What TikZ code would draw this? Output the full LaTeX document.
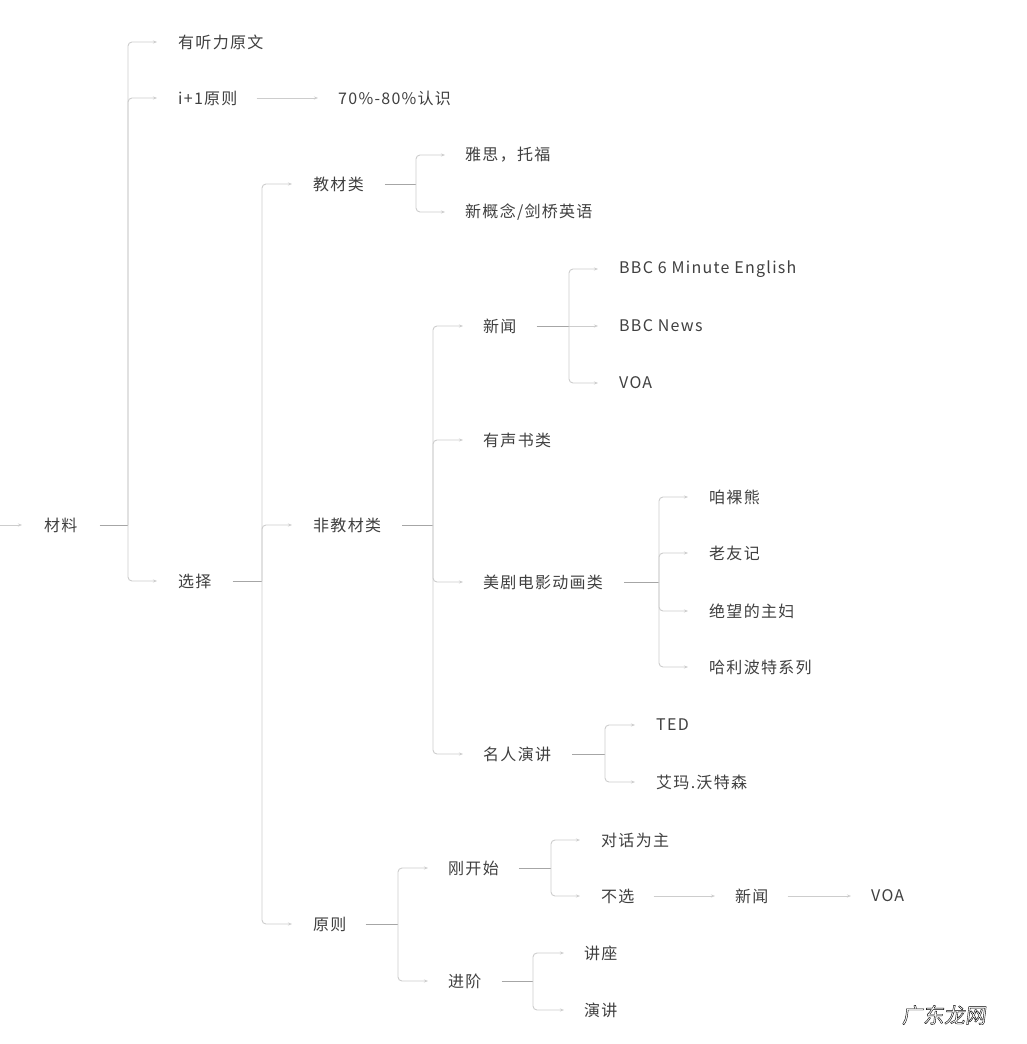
\documentclass[tikz,border=0pt]{standalone}
\usepackage{fontspec}
\setmainfont{Noto Sans CJK SC}[LetterSpace=8]
\newfontfamily\wmfont{Noto Sans CJK SC}[FakeBold=2,FakeSlant=0.12]
\usetikzlibrary{arrows.meta}
\definecolor{txt}{HTML}{404040}
\definecolor{stubgray}{HTML}{A6A6A6}
\definecolor{busgray}{HTML}{CDCDCD}
% outlined text: white face, black rim
\newcommand\rimtext[1]{{\color{white}\special{pdf:literal direct 2 Tr 2.4 w 0 G 1 j}#1\special{pdf:literal direct 0 Tr}}}

\begin{document}
\begin{tikzpicture}[x=1pt,y=-1pt,>={Stealth[length=4pt,width=3pt]},
    topic/.style={anchor=west,inner sep=0pt,text=txt,font=\fontsize{16}{16}\selectfont},
    wmark/.style={font=\wmfont\fontsize{21}{21}\selectfont},
    stub/.style={draw=stubgray,line width=0.9pt},
    branch/.style={draw=busgray,line width=0.9pt,->,rounded corners=4pt}]

    \useasboundingbox[fill=white] (0,0) rectangle (1026,1044);

    % root and first level
    \node[topic] (mat) at (44,525) {材料};
    \node[topic] (yt) at (178,42) {有听力原文};
    \node[topic] (i1) at (178,98) {i+1原则};
    \node[topic] (pct) at (338,98) {70\%-80\%认识};
    \node[topic] (xz) at (178,581) {选择};

    % choice
    \node[topic] (jc) at (313,184) {教材类};
    \node[topic] (ys) at (465,155) {雅思，托福};
    \node[topic] (xgn) at (465,212) {新概念/剑桥英语};
    \node[topic] (fjc) at (313,525) {非教材类};
    \node[topic] (xw) at (483,326) {新闻};
    \node[topic] (bbc6) at (619,269) {BBC 6 Minute English};
    \node[topic] (bbcn) at (619,326) {BBC News};
    \node[topic] (voa) at (619,383) {VOA};
    \node[topic] (ysh) at (483,440) {有声书类};
    \node[topic] (mj) at (483,582) {美剧电影动画类};
    \node[topic] (zl) at (709,497) {咱裸熊};
    \node[topic] (lyj) at (709,553) {老友记};
    \node[topic] (jw) at (709,611) {绝望的主妇};
    \node[topic] (hl) at (709,667) {哈利波特系列};
    \node[topic] (mr) at (483,754) {名人演讲};
    \node[topic] (ted) at (656,725) {TED};
    \node[topic] (am) at (656,782) {艾玛.沃特森};

    % principles
    \node[topic] (yz) at (313,924) {原则};
    \node[topic] (gks) at (448,868) {刚开始};
    \node[topic] (dh) at (601,840) {对话为主};
    \node[topic] (bx) at (601,896) {不选};
    \node[topic] (xw2) at (735,896) {新闻};
    \node[topic] (voa2) at (871,896) {VOA};
    \node[topic] (jj) at (448,981) {进阶};
    \node[topic] (jz) at (584,953) {讲座};
    \node[topic] (yj) at (584,1010) {演讲};

    % watermark
    \node[wmark] (wm) at (944,1015) {\rimtext{广东龙网}};

    % bus points
    \coordinate (in) at (0,525);
    \coordinate (mat-b) at (128,525);
    \coordinate (xz-b) at (262,581);
    \coordinate (jc-b) at (416,184);
    \coordinate (fjc-b) at (433,525);
    \coordinate (xw-b) at (569,326);
    \coordinate (mj-b) at (659,582);
    \coordinate (mr-b) at (605,754);
    \coordinate (yz-b) at (398,924);
    \coordinate (gks-b) at (551,868);
    \coordinate (jj-b) at (533,981);

    \draw[branch] (in) -- ([xshift=-22pt]mat.west);

    \draw[stub] ([xshift=22pt]mat.east) -- (mat-b);
    \draw[branch] (mat-b) |- ([xshift=-21pt]yt.west);
    \draw[branch] (mat-b) |- ([xshift=-21pt]i1.west);
    \draw[branch] (mat-b) |- ([xshift=-21pt]xz.west);
    \draw[branch] ([xshift=19pt]i1.east) -- ([xshift=-20pt]pct.west);

    \draw[stub] ([xshift=21pt]xz.east) -- (xz-b);
    \draw[branch] (xz-b) |- ([xshift=-21pt]jc.west);
    \draw[branch] (xz-b) |- ([xshift=-21pt]fjc.west);
    \draw[branch] (xz-b) |- ([xshift=-21pt]yz.west);

    \draw[stub] ([xshift=21pt]jc.east) -- (jc-b);
    \draw[branch] (jc-b) |- ([xshift=-20pt]ys.west);
    \draw[branch] (jc-b) |- ([xshift=-20pt]xgn.west);

    \draw[stub] ([xshift=21pt]fjc.east) -- (fjc-b);
    \draw[branch] (fjc-b) |- ([xshift=-20pt]xw.west);
    \draw[branch] (fjc-b) |- ([xshift=-20pt]ysh.west);
    \draw[branch] (fjc-b) |- ([xshift=-20pt]mj.west);
    \draw[branch] (fjc-b) |- ([xshift=-20pt]mr.west);

    \draw[stub] ([xshift=20pt]xw.east) -- (xw-b);
    \draw[branch] (xw-b) |- ([xshift=-21pt]bbc6.west);
    \draw[branch] (xw-b) -- ([xshift=-21pt]bbcn.west);
    \draw[branch] (xw-b) |- ([xshift=-21pt]voa.west);

    \draw[stub] ([xshift=21pt]mj.east) -- (mj-b);
    \draw[branch] (mj-b) |- ([xshift=-21pt]zl.west);
    \draw[branch] (mj-b) |- ([xshift=-21pt]lyj.west);
    \draw[branch] (mj-b) |- ([xshift=-21pt]jw.west);
    \draw[branch] (mj-b) |- ([xshift=-21pt]hl.west);

    \draw[stub] ([xshift=21pt]mr.east) -- (mr-b);
    \draw[branch] (mr-b) |- ([xshift=-21pt]ted.west);
    \draw[branch] (mr-b) |- ([xshift=-21pt]am.west);

    \draw[stub] ([xshift=19pt]yz.east) -- (yz-b);
    \draw[branch] (yz-b) |- ([xshift=-20pt]gks.west);
    \draw[branch] (yz-b) |- ([xshift=-20pt]jj.west);

    \draw[stub] ([xshift=20pt]gks.east) -- (gks-b);
    \draw[branch] (gks-b) |- ([xshift=-21pt]dh.west);
    \draw[branch] (gks-b) |- ([xshift=-21pt]bx.west);
    \draw[branch] ([xshift=19pt]bx.east) -- ([xshift=-20pt]xw2.west);
    \draw[branch] ([xshift=19pt]xw2.east) -- ([xshift=-20pt]voa2.west);

    \draw[stub] ([xshift=20pt]jj.east) -- (jj-b);
    \draw[branch] (jj-b) |- ([xshift=-20pt]jz.west);
    \draw[branch] (jj-b) |- ([xshift=-20pt]yj.west);

\end{tikzpicture}
\end{document}
